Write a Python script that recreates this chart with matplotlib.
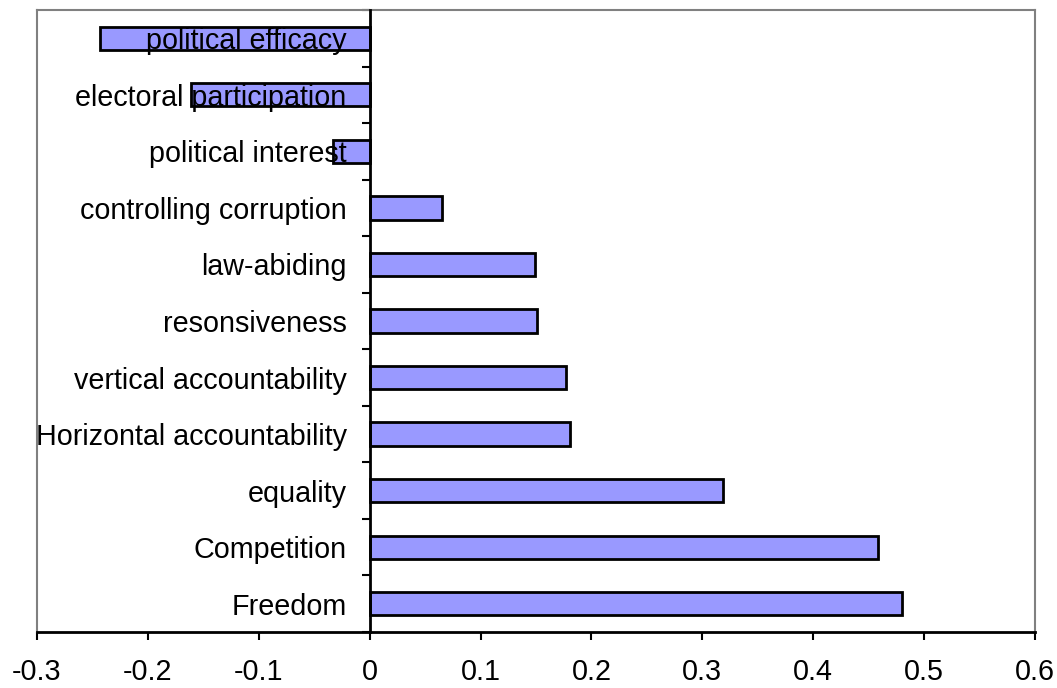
import matplotlib
matplotlib.use("Agg")
import matplotlib.pyplot as plt
from matplotlib.lines import Line2D
import matplotlib.transforms as mtransforms

categories = ["Freedom", "Competition", "equality", "Horizontal accountability",
              "vertical accountability", "resonsiveness", "law-abiding",
              "controlling corruption", "political interest",
              "electoral participation", "political efficacy"]
values = [0.480, 0.458, 0.319, 0.181, 0.177, 0.151, 0.149, 0.065, -0.033, -0.161, -0.243]
xticks = [-0.3, -0.2, -0.1, 0, 0.1, 0.2, 0.3, 0.4, 0.5, 0.6]
xticklabels = ["-0.3", "-0.2", "-0.1", "0", "0.1", "0.2", "0.3", "0.4", "0.5", "0.6"]

plt.rcParams['font.family'] = ['Liberation Sans', 'DejaVu Sans']
FS = 20.7

fig = plt.figure(figsize=(10.57, 6.88), dpi=100)
ax = fig.add_axes([37/1057, 56/688, (1035-37)/1057, (632-10)/688])

ypos = list(range(len(categories)))
ax.barh(ypos, values, height=0.41, color="#9999FF", edgecolor="black", linewidth=2, zorder=2)

ax.set_xlim(-0.3, 0.6)
ax.set_ylim(-0.5, len(categories) - 0.5)

ax.set_xticks(xticks)
ax.set_xticklabels(xticklabels, fontsize=FS)
ax.tick_params(axis='x', direction='out', length=6, width=1.5, pad=13, color='black')

# y ticks at category boundaries
ax.set_yticks([i - 0.5 for i in range(len(categories) + 1)])
ax.set_yticklabels([])
ax.tick_params(axis='y', which='major', direction='out', length=6, width=1.5)

# category labels drawn over the bars, right-aligned left of the zero axis
offset = mtransforms.ScaledTranslation(-23/100, -3/100, fig.dpi_scale_trans)
for y, name in zip(ypos, categories):
    ax.text(0, y, name, transform=ax.transData + offset, ha='right', va='center',
            fontsize=FS, zorder=6, clip_on=False)

ax.spines['left'].set_position(('data', 0))
ax.spines['left'].set_color('black')
ax.spines['left'].set_linewidth(2)
ax.spines['left'].set_zorder(3)
ax.spines['bottom'].set_color('black')
ax.spines['bottom'].set_linewidth(2)
for s in ('top', 'right'):
    ax.spines[s].set_color('#808080')
    ax.spines[s].set_linewidth(1.5)

ax.add_line(Line2D([0, 0], [0, 1], transform=ax.transAxes, color='#808080',
                   linewidth=1.5, clip_on=False))

fig.savefig("out.png", dpi=100)
